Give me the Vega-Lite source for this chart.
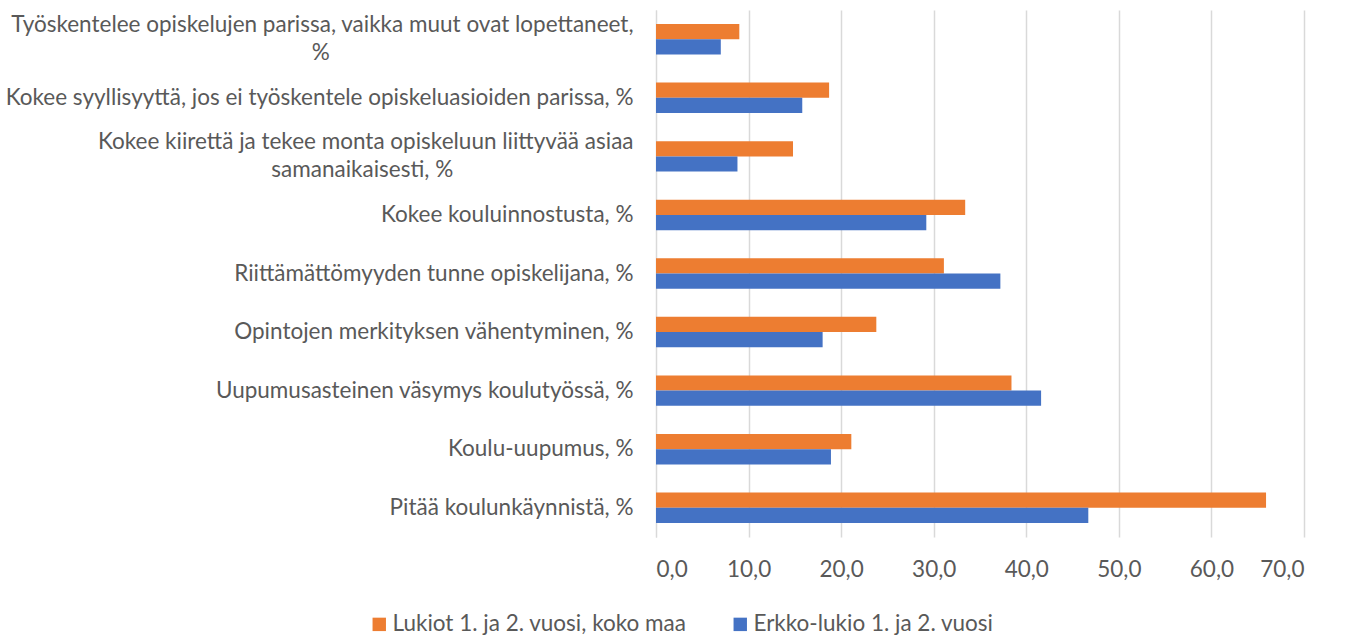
{
  "$schema": "https://vega.github.io/schema/vega-lite/v6.json",
  "autosize": "none",
  "width": 648,
  "height": 527,
  "padding": {"left": 656, "top": 10, "right": 45, "bottom": 98},
  "background": "white",
  "config": {
    "view": {"stroke": null},
    "font": "Lato",
    "axis": {"labelFont": "Lato", "labelColor": "#595959", "labelFontSize": 22.5},
    "legend": {"labelFont": "Lato", "labelColor": "#595959", "labelFontSize": 22.5}
  },
  "data": {
    "values": [
      {"category": "Työskentelee opiskelujen parissa, vaikka muut ovat lopettaneet, %", "series": "Lukiot 1. ja 2. vuosi, koko maa", "value": 9.0},
      {"category": "Työskentelee opiskelujen parissa, vaikka muut ovat lopettaneet, %", "series": "Erkko-lukio 1. ja 2. vuosi", "value": 7.0},
      {"category": "Kokee syyllisyyttä, jos ei työskentele opiskeluasioiden parissa, %", "series": "Lukiot 1. ja 2. vuosi, koko maa", "value": 18.7},
      {"category": "Kokee syyllisyyttä, jos ei työskentele opiskeluasioiden parissa, %", "series": "Erkko-lukio 1. ja 2. vuosi", "value": 15.8},
      {"category": "Kokee kiirettä ja tekee monta opiskeluun liittyvää asiaa samanaikaisesti, %", "series": "Lukiot 1. ja 2. vuosi, koko maa", "value": 14.8},
      {"category": "Kokee kiirettä ja tekee monta opiskeluun liittyvää asiaa samanaikaisesti, %", "series": "Erkko-lukio 1. ja 2. vuosi", "value": 8.8},
      {"category": "Kokee kouluinnostusta, %", "series": "Lukiot 1. ja 2. vuosi, koko maa", "value": 33.4},
      {"category": "Kokee kouluinnostusta, %", "series": "Erkko-lukio 1. ja 2. vuosi", "value": 29.2},
      {"category": "Riittämättömyyden tunne opiskelijana, %", "series": "Lukiot 1. ja 2. vuosi, koko maa", "value": 31.1},
      {"category": "Riittämättömyyden tunne opiskelijana, %", "series": "Erkko-lukio 1. ja 2. vuosi", "value": 37.2},
      {"category": "Opintojen merkityksen vähentyminen, %", "series": "Lukiot 1. ja 2. vuosi, koko maa", "value": 23.8},
      {"category": "Opintojen merkityksen vähentyminen, %", "series": "Erkko-lukio 1. ja 2. vuosi", "value": 18.0},
      {"category": "Uupumusasteinen väsymys koulutyössä, %", "series": "Lukiot 1. ja 2. vuosi, koko maa", "value": 38.4},
      {"category": "Uupumusasteinen väsymys koulutyössä, %", "series": "Erkko-lukio 1. ja 2. vuosi", "value": 41.6},
      {"category": "Koulu-uupumus, %", "series": "Lukiot 1. ja 2. vuosi, koko maa", "value": 21.1},
      {"category": "Koulu-uupumus, %", "series": "Erkko-lukio 1. ja 2. vuosi", "value": 18.9},
      {"category": "Pitää koulunkäynnistä, %", "series": "Lukiot 1. ja 2. vuosi, koko maa", "value": 65.9},
      {"category": "Pitää koulunkäynnistä, %", "series": "Erkko-lukio 1. ja 2. vuosi", "value": 46.7}
    ]
  },
  "mark": {"type": "bar"},
  "encoding": {
    "y": {
      "field": "category",
      "type": "nominal",
      "sort": null,
      "scale": {"paddingInner": 0.48, "paddingOuter": 0.24},
      "axis": {
        "title": null,
        "ticks": false,
        "domain": true,
        "domainColor": "#D9D9D9",
        "domainWidth": 1,
        "labelPadding": 23,
        "labelLimit": 800,
        "labelAlign": "right",
        "labelLineHeight": 28,
        "labelOffset": {
          "condition": {"test": "indexof(datum.value, 'Työskentelee') == 0 || indexof(datum.value, 'Kokee kiirettä') == 0", "value": -14},
          "value": 0
        },
        "labelExpr": "datum.label == 'Työskentelee opiskelujen parissa, vaikka muut ovat lopettaneet, %' ? ['Työskentelee opiskelujen parissa, vaikka muut ovat lopettaneet,', pad('%', 19, '\u2003') + '\u2060'] : datum.label == 'Kokee kiirettä ja tekee monta opiskeluun liittyvää asiaa samanaikaisesti, %' ? ['Kokee kiirettä ja tekee monta opiskeluun liittyvää asiaa', pad('samanaikaisesti, %', 28, '\u2003') + '\u00a0\u00a0\u2060'] : datum.label"
      }
    },
    "yOffset": {
      "field": "series",
      "type": "nominal",
      "sort": ["Lukiot 1. ja 2. vuosi, koko maa", "Erkko-lukio 1. ja 2. vuosi"],
      "scale": {"paddingInner": 0, "paddingOuter": 0}
    },
    "x": {
      "field": "value",
      "type": "quantitative",
      "scale": {"domain": [0, 70], "nice": false},
      "axis": {
        "title": null,
        "values": [0, 10, 20, 30, 40, 50, 60, 70],
        "ticks": false,
        "domain": false,
        "grid": true,
        "gridColor": "#D9D9D9",
        "gridWidth": 1.5,
        "labelPadding": 21,
        "labelExpr": "replace(format(datum.value, '.1f'), '.', ',')"
      }
    },
    "color": {
      "field": "series",
      "type": "nominal",
      "sort": ["Lukiot 1. ja 2. vuosi, koko maa", "Erkko-lukio 1. ja 2. vuosi"],
      "scale": {
        "domain": ["Lukiot 1. ja 2. vuosi, koko maa", "Erkko-lukio 1. ja 2. vuosi"],
        "range": ["#ED7D31", "#4472C4"]
      },
      "legend": {
        "title": null,
        "orient": "none",
        "direction": "horizontal",
        "legendX": -288,
        "legendY": 603,
        "symbolType": "square",
        "symbolSize": 180,
        "symbolStrokeWidth": 0,
        "labelOffset": 2,
        "columnPadding": 42,
        "labelLimit": 500
      }
    }
  }
}
